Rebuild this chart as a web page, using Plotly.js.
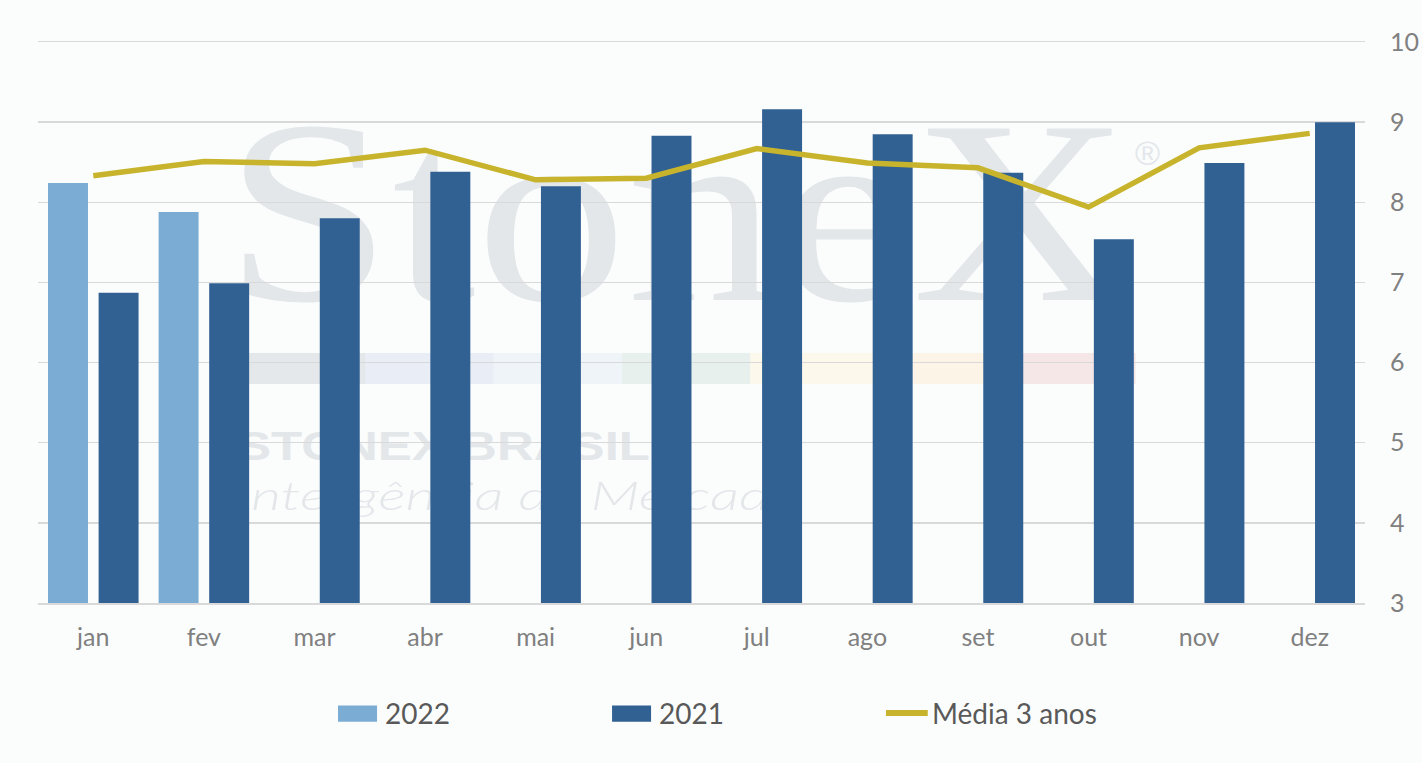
<!DOCTYPE html>
<html>
<head>
<meta charset="utf-8">
<script src="https://cdn.plot.ly/plotly-3.0.1.min.js"></script>
<style>
  html, body { margin: 0; padding: 0; background: #fbfdfd; }
  #myDiv { width: 1422px; height: 763px; }
</style>
</head>
<body>
<div id="myDiv"></div>
<script>
var meses = ['jan', 'fev', 'mar', 'abr', 'mai', 'jun', 'jul', 'ago', 'set', 'out', 'nov', 'dez'];
var valores2022 = [8.24, 7.88, null, null, null, null, null, null, null, null, null, null];
var valores2021 = [6.87, 6.99, 7.80, 8.38, 8.20, 8.83, 9.16, 8.85, 8.37, 7.54, 8.49, 9.00];
var media3anos = [8.33, 8.51, 8.48, 8.65, 8.28, 8.30, 8.67, 8.49, 8.43, 7.94, 8.68, 8.86];
var yTicks = [3, 4, 5, 6, 7, 8, 9, 10];

var corClaro = '#7aacd4';
var corEscuro = '#316093';
var corMedia = '#c8b42c';
var marca = '#e3e7ea';

// marca d'agua StoneX, desenhada atras das barras e das linhas de grade
var tiras = ['#e4e8eb', '#e9edf5', '#eff4f9', '#e8f0ed', '#fcf9ec', '#fdf4e8', '#f5e7e7'];
var rects = tiras.map(function (c, i) {
  return '<rect x="' + (199 + i * 128.3) + '" y="311" width="128.8" height="31" fill="' + c + '"/>';
}).join('');
var svg = '<svg xmlns="http://www.w3.org/2000/svg" width="1327" height="561" viewBox="0 0 1327 561" preserveAspectRatio="none">' +
  '<text x="186" y="258" font-family="Liberation Serif, serif" font-size="262" fill="' + marca + '" textLength="906" lengthAdjust="spacingAndGlyphs">StoneX</text>' +
  '<text x="1097" y="123" font-family="Liberation Sans, sans-serif" font-size="34" fill="' + marca + '">®</text>' +
  rects +
  '<text x="199" y="418" font-family="Liberation Sans, sans-serif" font-weight="bold" font-size="40" fill="' + marca + '" textLength="413" lengthAdjust="spacingAndGlyphs">STONEX BRASIL</text>' +
  '<text x="199" y="468" font-family="Lato, sans-serif" font-style="italic" font-weight="300" font-size="40" fill="' + marca + '" textLength="562" lengthAdjust="spacingAndGlyphs">Inteligência de Mercado</text>' +
  '</svg>';

var trace1 = {
  x: meses,
  y: valores2022,
  name: '2022',
  type: 'bar',
  marker: {color: corClaro},
  showlegend: false
};

var trace2 = {
  x: meses,
  y: valores2021,
  name: '2021',
  type: 'bar',
  marker: {color: corEscuro},
  showlegend: false
};

var trace3 = {
  x: meses,
  y: media3anos,
  name: 'Média 3 anos',
  type: 'scatter',
  mode: 'lines',
  line: {color: corMedia, width: 5.5},
  showlegend: false
};

var data = [trace1, trace2, trace3];

// legenda feita a mao para ter os retangulos largos do original
var legY = -0.196;
var legenda = [
  {nome: '2022', cor: corClaro, x0: 0.2261, x1: 0.2555, tx: 0.2600, tipo: 'rect'},
  {nome: '2021', cor: corEscuro, x0: 0.4326, x1: 0.4620, tx: 0.4665, tipo: 'rect'},
  {nome: 'Média 3 anos', cor: corMedia, x0: 0.6390, x1: 0.6705, tx: 0.6722, tipo: 'line'}
];

var shapes = legenda.map(function (l) {
  if (l.tipo === 'rect') {
    return {type: 'rect', xref: 'paper', yref: 'paper', x0: l.x0, x1: l.x1,
      y0: legY + 0.0135, y1: legY - 0.0155, fillcolor: l.cor, line: {width: 0}};
  }
  return {type: 'line', xref: 'paper', yref: 'paper', x0: l.x0, x1: l.x1,
    y0: legY, y1: legY, line: {color: l.cor, width: 6}};
});

var annotations = legenda.map(function (l) {
  return {xref: 'paper', yref: 'paper', x: l.tx, y: legY, xanchor: 'left', yanchor: 'middle',
    text: l.nome, showarrow: false, font: {family: 'Lato, sans-serif', size: 28, color: '#595959'}};
});

var layout = {
  width: 1422,
  height: 763,
  margin: {l: 38, r: 57, t: 42, b: 160},
  paper_bgcolor: '#fbfdfd',
  plot_bgcolor: 'rgba(0,0,0,0)',
  barmode: 'group',
  bargap: 0.085,
  bargroupgap: 0.21,
  showlegend: false,
  font: {family: 'Lato, sans-serif', color: '#808080'},
  xaxis: {
    type: 'category',
    showgrid: false,
    showline: true,
    mirror: true,
    linecolor: '#d9d9d9',
    linewidth: 1.5,
    zeroline: false,
    ticks: '',
    tickfont: {size: 25, color: '#808080'},
    ticklabelstandoff: 11
  },
  yaxis: {
    side: 'right',
    range: [3, 10],
    tickvals: yTicks,
    showgrid: true,
    gridcolor: '#d9d9d9',
    gridwidth: 1.5,
    zeroline: false,
    ticks: '',
    tickfont: {size: 25, color: '#808080'},
    ticklabelstandoff: 24
  },
  images: [{
    source: 'data:image/svg+xml;charset=utf-8,' + encodeURIComponent(svg),
    xref: 'paper', yref: 'paper', x: 0, y: 1, sizex: 1, sizey: 1,
    xanchor: 'left', yanchor: 'top', sizing: 'stretch', layer: 'below'
  }],
  shapes: shapes,
  annotations: annotations
};

Plotly.newPlot('myDiv', data, layout, {displayModeBar: false, staticPlot: true});
</script>
</body>
</html>
